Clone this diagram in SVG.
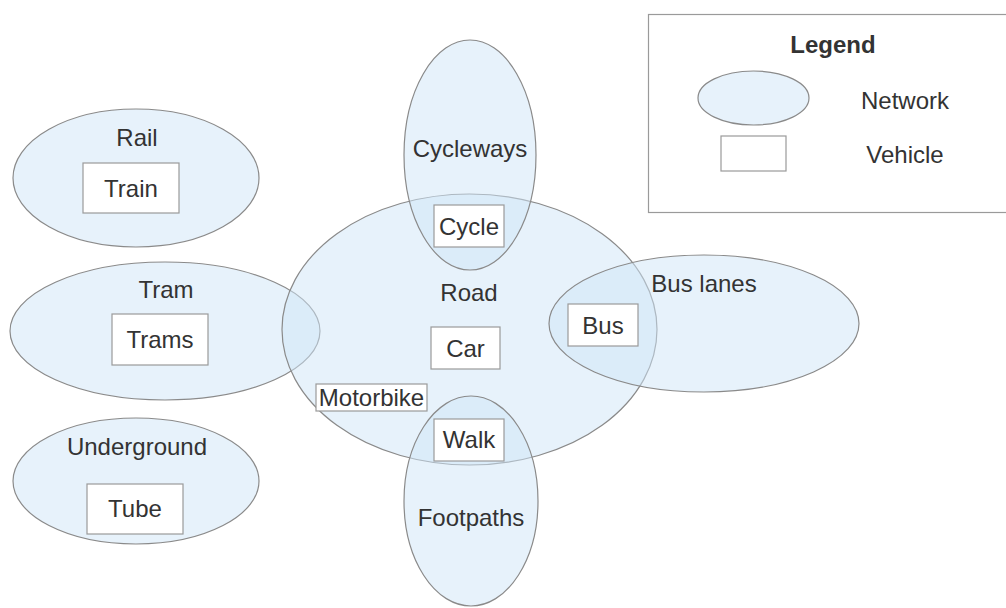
<svg xmlns="http://www.w3.org/2000/svg" width="1006" height="608" viewBox="0 0 1006 608">
<style>
.net{fill:#cfe6f7;fill-opacity:0.5;stroke:#8a8a8a;stroke-width:1.2}
.veh{fill:#ffffff;stroke:#9a9a9a;stroke-width:1.2}
text{font-family:"Liberation Sans",Arial,sans-serif;font-size:24px;fill:#333333;text-anchor:middle}
.b{font-weight:bold}
</style>
<rect width="1006" height="608" fill="#ffffff"/>
<g id="legend">
<rect x="648.5" y="14.5" width="360" height="198" fill="#ffffff" stroke="#9a9a9a" stroke-width="1.2"/>
<text class="b" x="833" y="53">Legend</text>
<ellipse class="net" cx="753.5" cy="98" rx="55.5" ry="27"/>
<text x="905" y="109">Network</text>
<rect class="veh" x="721" y="136" width="65" height="35"/>
<text x="905" y="163">Vehicle</text>
</g>
<g id="networks">
<g id="rail"><ellipse class="net" cx="136" cy="178" rx="123" ry="69"/><text x="137" y="146">Rail</text></g>
<g id="tram"><ellipse class="net" cx="165" cy="331" rx="155" ry="69"/><text x="166" y="298">Tram</text></g>
<g id="underground"><ellipse class="net" cx="136" cy="481" rx="123" ry="63"/><text x="137" y="455">Underground</text></g>
<g id="road"><ellipse class="net" cx="469.5" cy="329.5" rx="187.5" ry="135.5"/><text x="469" y="301">Road</text></g>
<g id="cycleways"><ellipse class="net" cx="470" cy="155" rx="66" ry="115"/><text x="470" y="157">Cycleways</text></g>
<g id="footpaths"><ellipse class="net" cx="471" cy="501" rx="67" ry="105"/><text x="471" y="526">Footpaths</text></g>
<g id="buslanes"><ellipse class="net" cx="704" cy="323.5" rx="155" ry="68.5"/><text x="704" y="292">Bus lanes</text></g>
</g>
<g id="vehicles">
<g id="train"><rect class="veh" x="83" y="163" width="96" height="50"/><text x="131" y="197">Train</text></g>
<g id="trams"><rect class="veh" x="112" y="314" width="96" height="51"/><text x="160" y="348">Trams</text></g>
<g id="tube"><rect class="veh" x="87" y="484" width="96" height="50"/><text x="135" y="517">Tube</text></g>
<g id="cycle"><rect class="veh" x="434" y="205" width="70" height="42"/><text x="469" y="235">Cycle</text></g>
<g id="car"><rect class="veh" x="431" y="327" width="69" height="42"/><text x="465.5" y="357">Car</text></g>
<g id="bus"><rect class="veh" x="568" y="304" width="70" height="42"/><text x="603" y="334">Bus</text></g>
<g id="walk"><rect class="veh" x="434" y="419" width="70" height="42"/><text x="469" y="448">Walk</text></g>
<g id="motorbike"><rect class="veh" x="316" y="384" width="111" height="27"/><text x="371.5" y="406">Motorbike</text></g>
</g>
<g id="connectors"/>
</svg>
